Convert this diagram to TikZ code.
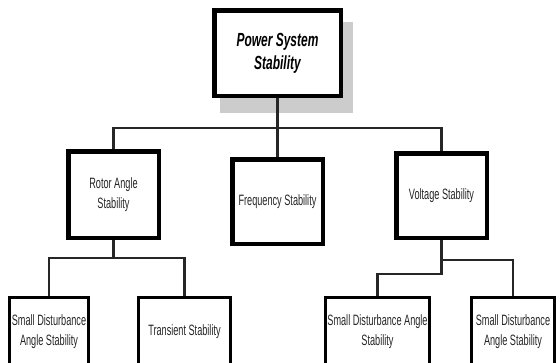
\documentclass[tikz,border=0pt]{standalone}
\usepackage{fontspec}
\usepackage{tikz}
\usetikzlibrary{positioning, backgrounds}

\newfontfamily\narrowsf[FakeStretch=0.61]{Liberation Sans}
\newfontfamily\titlesf[FakeStretch=0.63]{Liberation Sans}

\begin{document}
\begin{tikzpicture}[
    x=1pt, y=1pt,
    mainbox/.style={
      rectangle, draw=black, fill=white, line width=4.5pt,
      minimum width=126.5pt, minimum height=85.5pt,
      align=center, inner sep=1pt,
      font=\titlesf\fontsize{19}{23}\selectfont\bfseries\itshape
    },
    groupbox/.style={
      rectangle, draw=black, fill=white, line width=4.5pt,
      minimum width=90.5pt, minimum height=84.5pt,
      align=center, inner sep=0pt, text=black!85,
      font=\narrowsf\fontsize{15}{20}\selectfont
    },
    leafbox/.style={groupbox, line width=3pt, minimum height=68pt},
    link/.style={line width=2.5pt, draw=black!85},
    shadowfill/.style={fill=gray!40},
  ]

  \useasboundingbox (0,0) rectangle (560,-362);
  \clip (0,0) rectangle (560,-362);

  % top level
  \node[mainbox] (pss) at (277.5,-53) {Power System\\Stability};

  % second level
  \node[groupbox, below=59pt of pss] (freq) {Frequency Stability};
  \node[groupbox, left=69pt of freq, yshift=7pt, minimum height=86.5pt] (rotor) {Rotor Angle\\Stability};
  \node[groupbox, right=69pt of freq, yshift=6pt] (volt) {Voltage Stability};

  % third level
  \node[leafbox, below=56pt of rotor, xshift=-64.5pt, minimum width=79pt] (smallrotor) {Small Disturbance\\Angle Stability};
  \node[leafbox, below=56pt of rotor, xshift=71pt, minimum width=92pt] (transient) {Transient Stability};
  \node[leafbox, below=56pt of volt, xshift=-64pt, minimum width=104pt] (smallvolt) {Small Disturbance Angle\\Stability};
  \node[leafbox, below=56pt of volt, xshift=71.5pt, minimum width=83pt] (smalldist) {Small Disturbance\\Angle Stability};

  % shadow of the top box
  \begin{scope}[on background layer]
    \fill[white] (0,0) rectangle (560,-362);
    \fill[shadowfill] ([shift={(8pt,-14pt)}]pss.north west) rectangle ([shift={(10pt,-15pt)}]pss.south east);
  \end{scope}

  % connectors
  \coordinate[below=30pt of pss] (bus);
  \coordinate[below=18pt of rotor] (rotorbus);
  \coordinate[below=34pt of volt] (voltleft);
  \coordinate[below=20pt of volt] (voltright);

  \draw[link] (pss.south) -- (freq.north);
  \draw[link] (rotor.north) |- (bus) -| (volt.north);
  \draw[link] (rotor.south) -- (rotorbus);
  \draw[link] (smallrotor.north) |- (rotorbus) -| (transient.north);
  \draw[link] (volt.south) -- (voltleft) -| (smallvolt.north);
  \draw[link] (voltright) -| (smalldist.north);
\end{tikzpicture}
\end{document}
